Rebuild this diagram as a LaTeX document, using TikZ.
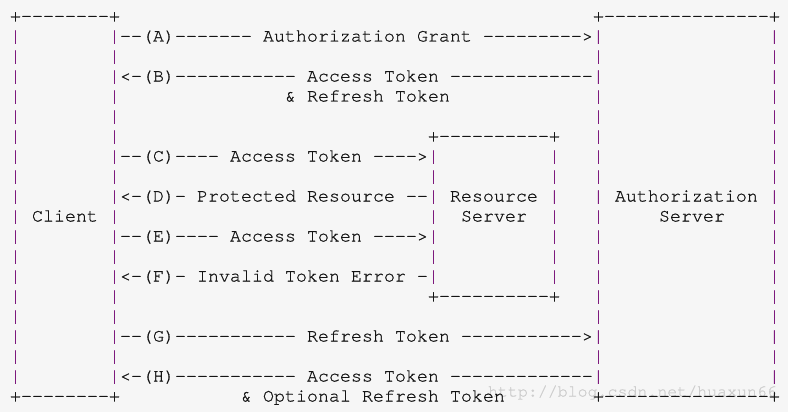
\documentclass[tikz,border=0pt]{standalone}
\usepackage{fontspec}
\setmonofont[FakeBold=0.7]{TeX Gyre Cursor}
\definecolor{bgc}{RGB}{246,246,246}
\definecolor{txt}{RGB}{20,20,20}
\definecolor{barc}{RGB}{125,25,125}
\definecolor{wmc}{RGB}{205,205,205}
\newdimen\cw \cw=11pt
\newcommand\pb{\textcolor{barc}{|}}
\newcommand\SP[1]{\hspace*{#1\cw}}
\newcommand\cl{\pb\SP{8}\pb}
\newcommand\as{\pb\SP{15}\pb}
\newcommand\rsb{\pb\SP{10}\pb}
\tikzset{
  row/.style={anchor=base west, inner sep=0pt, outer sep=0pt, text=txt,
    font=\ttfamily\fontsize{18.33pt}{20pt}\selectfont},
  wmark/.style={anchor=base west, inner sep=0pt, outer sep=0pt, text=wmc,
    font=\ttfamily\fontsize{16.6pt}{18pt}\selectfont}
}
\begin{document}
\begin{tikzpicture}[x=1pt,y=1pt]
\useasboundingbox[fill=bgc] (0,0) rectangle (788,-412);
\node[wmark] (wm) at (488,-396.5) {http://blog.csdn.net/huaxun66};
\node[row] (l1)  at (10,-21.5)  {+--------+\SP{43}+---------------+};
\node[row] (l2)  at (10,-41.5)  {\cl--(A)------- Authorization Grant --------->\as};
\node[row] (l3)  at (10,-61.5)  {\cl\SP{43}\as};
\node[row] (l4)  at (10,-81.5)  {\cl<-(B)----------- Access Token -------------\as};
\node[row] (l5)  at (10,-101.5) {\cl\SP{15}\&\SP{1}Refresh\SP{1}Token\SP{13}\as};
\node[row] (l6)  at (10,-121.5) {\cl\SP{43}\as};
\node[row] (l7)  at (10,-141.5) {\cl\SP{28}+----------+\SP{3}\as};
\node[row] (l8)  at (10,-161.5) {\cl--(C)---- Access Token ---->\rsb\SP{3}\as};
\node[row] (l9)  at (10,-181.5) {\cl\SP{28}\rsb\SP{3}\as};
\node[row] (l10) at (10,-201.5) {\cl<-(D)- Protected Resource --\pb\SP{1}Resource\SP{1}\pb\SP{3}\pb\SP{1}Authorization\SP{1}\pb};
\node[row] (l11) at (10,-221.5) {\pb\SP{1}Client\SP{1}\pb\SP{28}\pb\SP{2}Server\SP{2}\pb\SP{3}\pb\SP{5}Server\SP{4}\pb};
\node[row] (l12) at (10,-241.5) {\cl--(E)---- Access Token ---->\rsb\SP{3}\as};
\node[row] (l13) at (10,-261.5) {\cl\SP{28}\rsb\SP{3}\as};
\node[row] (l14) at (10,-281.5) {\cl<-(F)- Invalid Token Error -\rsb\SP{3}\as};
\node[row] (l15) at (10,-301.5) {\cl\SP{28}+----------+\SP{3}\as};
\node[row] (l16) at (10,-321.5) {\cl\SP{43}\as};
\node[row] (l17) at (10,-341.5) {\cl--(G)----------- Refresh Token ----------->\as};
\node[row] (l18) at (10,-361.5) {\cl\SP{43}\as};
\node[row] (l19) at (10,-381.5) {\cl<-(H)----------- Access Token -------------\as};
\node[row] (l20) at (10,-401.5) {+--------+\SP{11}\&\SP{1}Optional\SP{1}Refresh\SP{1}Token\SP{8}+---------------+};
\end{tikzpicture}
\end{document}
